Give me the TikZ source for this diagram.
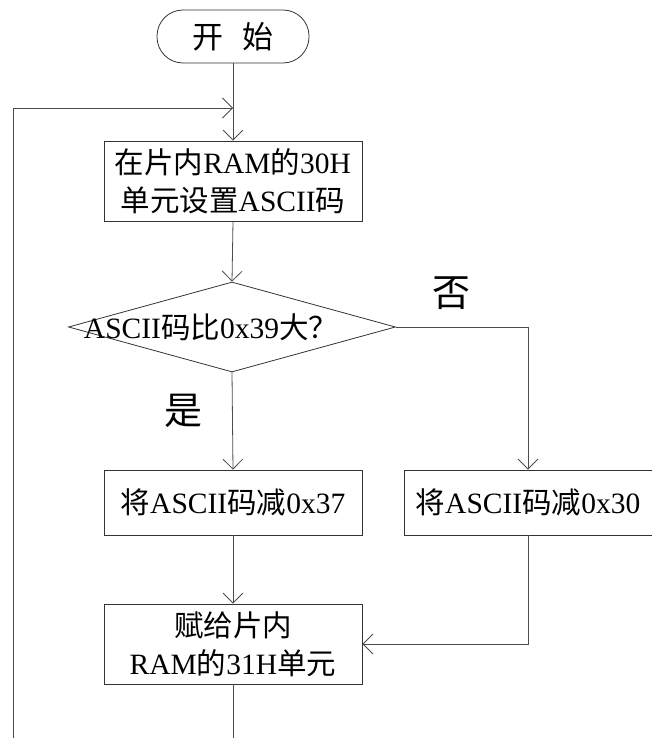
\documentclass[tikz,border=0pt]{standalone}
\usepackage{fontspec}
\setmainfont{Liberation Serif}
\newfontfamily\cjk{Noto Sans CJK SC}
\usetikzlibrary{arrows.meta,shapes.geometric}

\begin{document}
\begin{tikzpicture}[
  x=1pt, y=-1pt,
  line width=0.8pt,
  >={Straight Barb[length=10pt,width=20pt]},
  flow/.style={draw=black!70, ->},
  wire/.style={draw=black!70},
  procbox/.style={draw=black!80, rectangle, inner sep=0pt,
    minimum width=258pt, align=center, font=\fontsize{29.5}{38}\selectfont},
  startbox/.style={draw=black!80, rectangle, rounded corners=26pt,
    minimum width=152pt, minimum height=53pt, inner sep=0pt,
    font=\fontsize{31}{34}\selectfont},
  decision/.style={draw=black!80, diamond, inner sep=0pt,
    minimum width=327pt, minimum height=90pt},
  txt/.style={inner sep=0pt, font=\fontsize{29.5}{34}\selectfont},
  branch/.style={inner sep=0pt, font=\fontsize{38}{42}\selectfont\cjk},
]
\useasboundingbox (0,0) rectangle (652,738);

% main column
\node[startbox] (start) at (233,36.5) {\cjk 开\hspace{0.6em}始};
\node[procbox, minimum height=80pt] (setcode) at (233,181)
  {{\cjk 在片内}RAM{\cjk 的}30H\\{\cjk 单元设置}ASCII{\cjk 码}};
\node[decision] (test) at (232,327) {};
\node[txt] (testtext) at (211,327) {ASCII{\cjk 码比}0x39{\cjk 大？}};
\node[procbox, minimum height=65pt] (subA) at (233,502.5)
  {{\cjk 将}ASCII{\cjk 码减}0x37};
\node[procbox, minimum width=248pt, minimum height=65pt] (subB) at (528,502.5)
  {{\cjk 将}ASCII{\cjk 码减}0x30};
\node[procbox, minimum height=80pt] (store) at (233,644)
  {{\cjk 赋给片内}\\RAM{\cjk 的}31H{\cjk 单元}};

% branch labels
\node[branch] (nolabel) at (451,293) {否};
\node[branch] (yeslabel) at (183,411) {是};

% loop-back line entering above the first box
\coordinate (loopfoot) at (13,738);
\coordinate (loopin) at (start.south |- 0,108);
\coordinate (tail) at (store.south |- 0,738);

% connectors
\draw[flow] (start.south) -- (setcode.north);
\draw[flow] (loopfoot) |- (loopin);
\draw[flow] (setcode.south) -- (test.north);
\draw[flow] (test.south) -- (subA.north);
\draw[flow] (test.east) -| (subB.north);
\draw[flow] (subA.south) -- (store.north);
\draw[flow] (subB.south) |- (store.east);
\draw[wire] (store.south) -- (tail);
\end{tikzpicture}
\end{document}
